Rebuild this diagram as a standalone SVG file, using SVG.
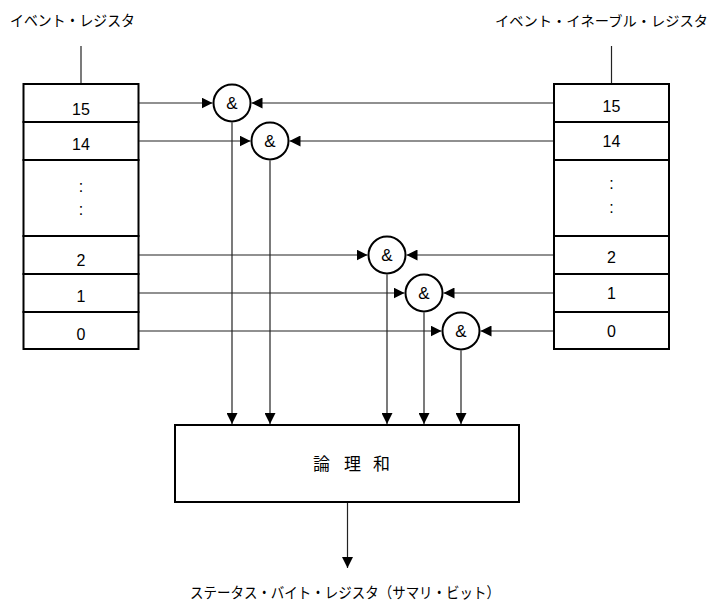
<svg xmlns="http://www.w3.org/2000/svg" width="714" height="602" viewBox="0 0 714 602">
<style>
.box{fill:#fff;stroke:#000;stroke-width:2}
.gate{fill:#fff;stroke:#000;stroke-width:2}
.ln{fill:none;stroke:#222;stroke-width:1.2}
.arr{fill:none;stroke:#222;stroke-width:1.2;marker-end:url(#ah)}
.num{font-family:"Liberation Sans",Arial,sans-serif;font-size:16px;text-anchor:middle;fill:#000}
.amp{font-family:"Liberation Sans",Arial,sans-serif;font-size:17px;text-anchor:middle;fill:#000}
.jp{font-family:"Noto Sans CJK JP","Liberation Sans",sans-serif;font-size:15px;fill:#000}
</style>
<defs>
<marker id="ah" viewBox="0 0 11 11" refX="11" refY="5.5" markerWidth="11" markerHeight="11" orient="auto" markerUnits="userSpaceOnUse">
<path d="M0,0 L11,5.5 L0,11z" fill="#000"/>
</marker>
</defs>
<rect width="714" height="602" fill="#fff"/>

<g id="label-event-register">
<text class="jp" x="10" y="26" textLength="125" lengthAdjust="spacingAndGlyphs">イベント・レジスタ</text>
<line class="ln" x1="81" y1="46" x2="81" y2="84"/>
</g>
<g id="label-enable-register">
<text class="jp" style="font-size:14px" x="495" y="26" textLength="213" lengthAdjust="spacingAndGlyphs">イベント・イネーブル・レジスタ</text>
<line class="ln" x1="611.5" y1="46" x2="611.5" y2="84"/>
</g>

<g id="event-register">
<rect class="box" x="23.5" y="84" width="115" height="38"/>
<rect class="box" x="23.5" y="122" width="115" height="38"/>
<rect class="box" x="23.5" y="160" width="115" height="76"/>
<rect class="box" x="23.5" y="236" width="115" height="38"/>
<rect class="box" x="23.5" y="274" width="115" height="38"/>
<rect class="box" x="23.5" y="312" width="115" height="37"/>
<text class="num" x="81" y="115">15</text>
<text class="num" x="81" y="150">14</text>
<text class="num" x="81" y="192">:</text>
<text class="num" x="81" y="215">:</text>
<text class="num" x="81" y="266">2</text>
<text class="num" x="81" y="302">1</text>
<text class="num" x="81" y="340">0</text>
</g>

<g id="enable-register">
<rect class="box" x="554" y="84" width="115" height="38"/>
<rect class="box" x="554" y="122" width="115" height="38"/>
<rect class="box" x="554" y="160" width="115" height="76"/>
<rect class="box" x="554" y="236" width="115" height="38"/>
<rect class="box" x="554" y="274" width="115" height="38"/>
<rect class="box" x="554" y="312" width="115" height="37"/>
<text class="num" x="611.5" y="112">15</text>
<text class="num" x="611.5" y="147">14</text>
<text class="num" x="611.5" y="189">:</text>
<text class="num" x="611.5" y="213">:</text>
<text class="num" x="611.5" y="263">2</text>
<text class="num" x="611.5" y="299">1</text>
<text class="num" x="611.5" y="337">0</text>
</g>

<g id="connectors">
<line class="arr" x1="139" y1="103" x2="212.5" y2="103"/>
<line class="arr" x1="553" y1="103" x2="251.5" y2="103"/>
<line class="arr" x1="232" y1="122.5" x2="232" y2="424"/>
<line class="arr" x1="139" y1="141" x2="250.5" y2="141"/>
<line class="arr" x1="553" y1="141" x2="289.5" y2="141"/>
<line class="arr" x1="270" y1="160.5" x2="270" y2="424"/>
<line class="arr" x1="139" y1="255" x2="367.5" y2="255"/>
<line class="arr" x1="553" y1="255" x2="406.5" y2="255"/>
<line class="arr" x1="387" y1="274.5" x2="387" y2="424"/>
<line class="arr" x1="139" y1="293" x2="404.5" y2="293"/>
<line class="arr" x1="553" y1="293" x2="443.5" y2="293"/>
<line class="arr" x1="424" y1="312.5" x2="424" y2="424"/>
<line class="arr" x1="139" y1="331" x2="441.5" y2="331"/>
<line class="arr" x1="553" y1="331" x2="480.5" y2="331"/>
<line class="arr" x1="461" y1="350.5" x2="461" y2="424"/>
<line class="arr" x1="347.5" y1="503" x2="347.5" y2="568"/>
</g>

<g id="and15"><circle class="gate" cx="232" cy="103" r="18.5"/><text class="amp" x="232" y="109">&amp;</text></g>
<g id="and14"><circle class="gate" cx="270" cy="141" r="18.5"/><text class="amp" x="270" y="147">&amp;</text></g>
<g id="and2"><circle class="gate" cx="387" cy="255" r="18.5"/><text class="amp" x="387" y="261">&amp;</text></g>
<g id="and1"><circle class="gate" cx="424" cy="293" r="18.5"/><text class="amp" x="424" y="299">&amp;</text></g>
<g id="and0"><circle class="gate" cx="461" cy="331" r="18.5"/><text class="amp" x="461" y="337">&amp;</text></g>

<g id="or-box">
<rect class="box" x="175" y="425" width="344" height="77"/>
<text class="jp" style="font-size:17px" x="321.5" y="470" text-anchor="middle">論</text>
<text class="jp" style="font-size:17px" x="352.5" y="470" text-anchor="middle">理</text>
<text class="jp" style="font-size:17px" x="381.5" y="470" text-anchor="middle">和</text>
</g>

<g id="label-status">
<text class="jp" x="190" y="598" textLength="310" lengthAdjust="spacingAndGlyphs">ステータス・バイト・レジスタ（サマリ・ビット）</text>
</g>
</svg>
